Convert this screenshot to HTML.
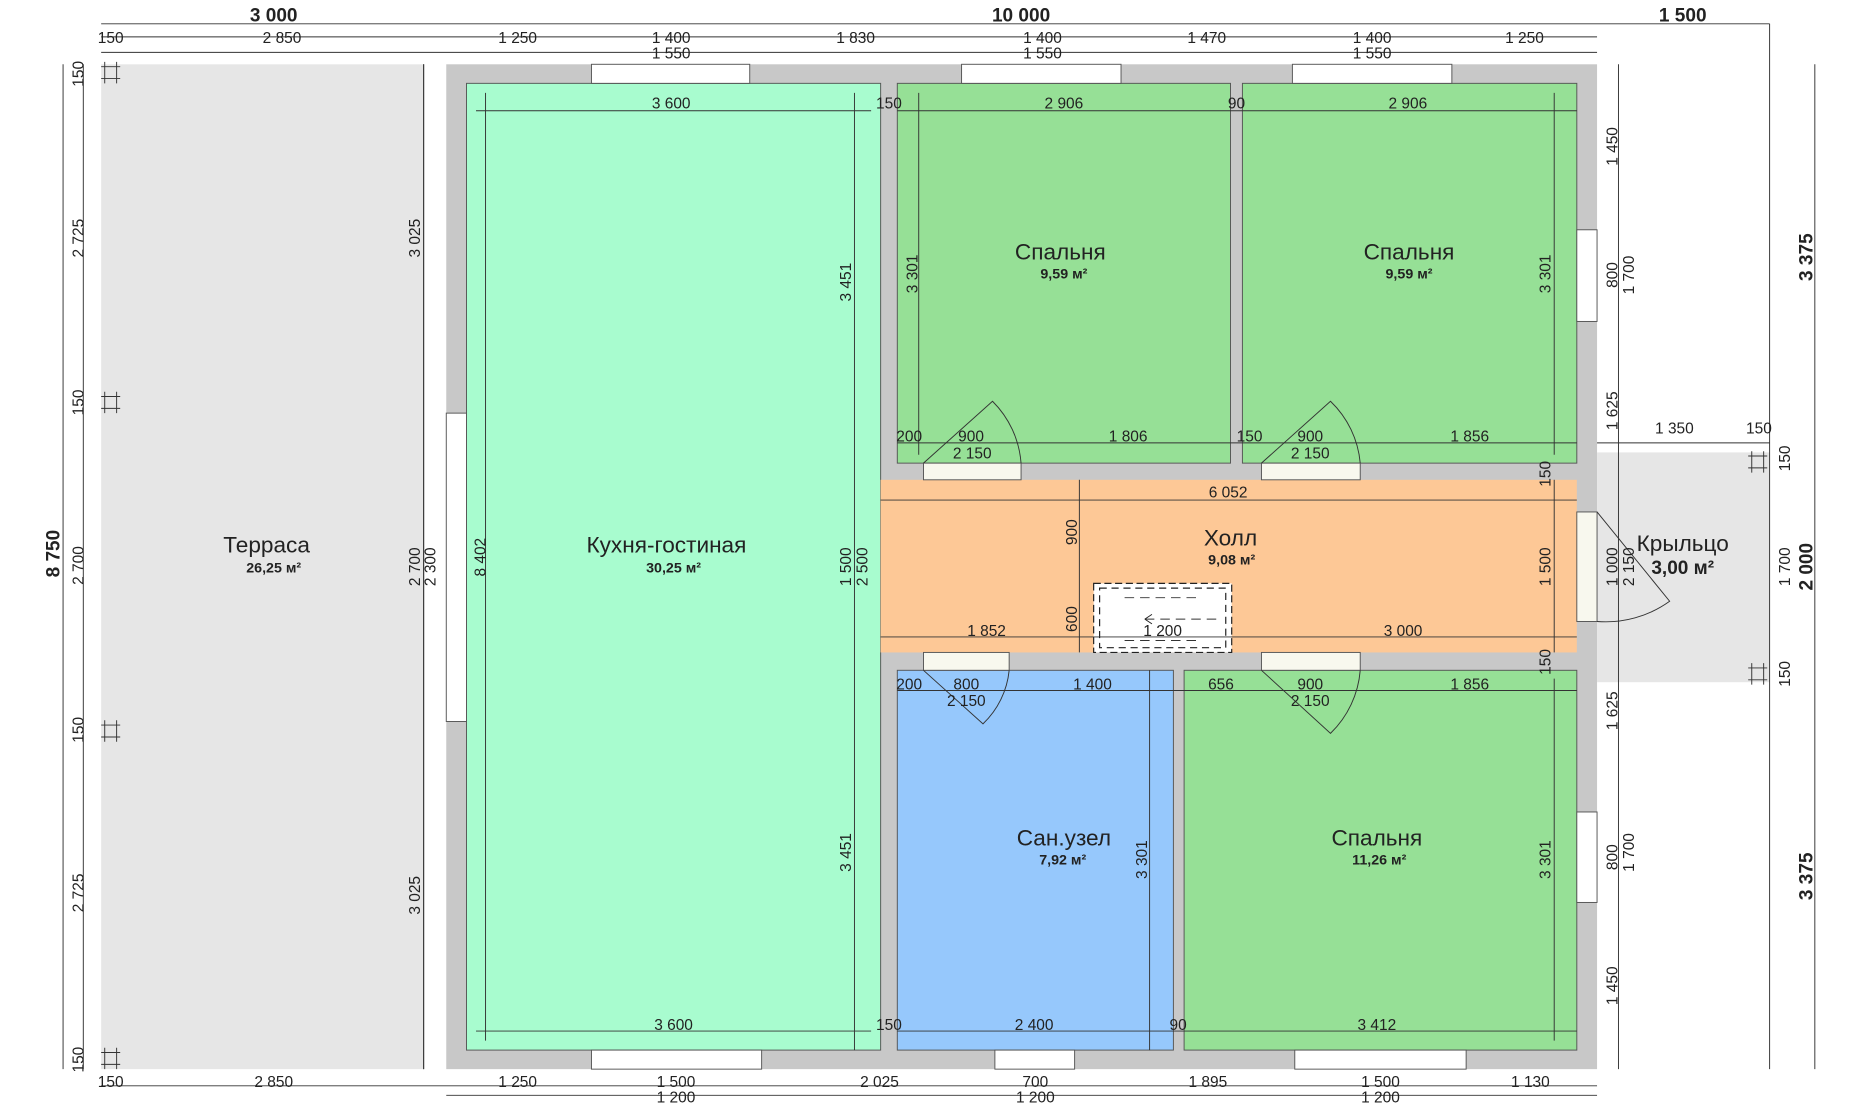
<!DOCTYPE html>
<html><head><meta charset="utf-8"><style>
html,body{margin:0;padding:0;background:#fff;}
svg{display:block}
text{font-family:"Liberation Sans",sans-serif;fill:#222}
.d{font-size:13px}
.big{font-size:16px;font-weight:bold}
.rn{font-size:19px}
.ar{font-size:12px;font-weight:bold}
line{stroke:#333;stroke-width:0.8}
</style></head><body>
<svg width="1866" height="1112" viewBox="0 0 1568 934" preserveAspectRatio="none" xmlns="http://www.w3.org/2000/svg">
<rect width="1568" height="934" fill="#fff"/>
<rect x="85" y="54" width="271" height="844" fill="#e6e6e6"/>
<line x1="356" y1="54" x2="356" y2="898"/>
<rect x="375" y="54" width="967" height="844" fill="#c8c8c8"/>
<rect x="392" y="70" width="348" height="812" fill="#a8fccf" stroke="#555" stroke-width="0.8"/>
<rect x="754" y="70" width="280" height="319" fill="#96e096" stroke="#555" stroke-width="0.8"/>
<rect x="1044" y="70" width="281" height="319" fill="#96e096" stroke="#555" stroke-width="0.8"/>
<rect x="740" y="403" width="585" height="145" fill="#fdc896"/>
<rect x="754" y="563" width="232" height="319" fill="#96c8fc" stroke="#555" stroke-width="0.8"/>
<rect x="995" y="563" width="330" height="319" fill="#96e096" stroke="#555" stroke-width="0.8"/>
<rect x="1342" y="380" width="145" height="193" fill="#e6e6e6"/>
<g fill="#fff" stroke="#555" stroke-width="0.8">
<rect x="497" y="54" width="133" height="16"/><rect x="808" y="54" width="134" height="16"/><rect x="1086" y="54" width="134" height="16"/>
<rect x="497" y="882" width="143" height="16"/><rect x="836" y="882" width="67" height="16"/><rect x="1088" y="882" width="144" height="16"/>
<rect x="375" y="347" width="17" height="259"/>
<rect x="1325" y="193" width="17" height="77"/><rect x="1325" y="682" width="17" height="76"/>
<rect x="1325" y="430" width="17" height="92" fill="#f8f8ee"/>
<rect x="776" y="389" width="82" height="14" fill="#f8f8ee"/><rect x="1060" y="389" width="83" height="14" fill="#f8f8ee"/>
<rect x="776" y="548" width="72" height="15" fill="#f8f8ee"/><rect x="1060" y="548" width="83" height="15" fill="#f8f8ee"/>
</g>
<g fill="none" stroke="#333" stroke-width="0.8">
<path d="M776 389 L834 337 A82 82 0 0 1 858 389"/>
<path d="M1060 389 L1118 337 A82 82 0 0 1 1143 389"/>
<path d="M776 563 L826 608 A72 72 0 0 0 848 563"/>
<path d="M1060 563 L1118 616 A83 83 0 0 0 1143 563"/>
<path d="M1342 430 L1403 505 A92 92 0 0 1 1342 522"/>
</g>
<rect x="919" y="490" width="116" height="58" fill="#fff" stroke="#222" stroke-dasharray="6,3"/>
<rect x="924" y="494" width="106" height="50" fill="none" stroke="#222" stroke-dasharray="6,4"/>
<line x1="945" y1="502" x2="1010" y2="502" stroke-dasharray="8,5"/>
<line x1="945" y1="538" x2="1010" y2="538" stroke-dasharray="8,5"/>
<line x1="962" y1="520" x2="1022" y2="520" stroke-dasharray="8,5"/>
<path d="M962 520 l6 -4 M962 520 l6 4" stroke="#222" stroke-width="0.8"/>
<g>
<line x1="85" y1="20" x2="1487" y2="20"/><line x1="85" y1="31" x2="1342" y2="31"/><line x1="85" y1="44" x2="1342" y2="44"/>
<line x1="85" y1="912" x2="1342" y2="912"/><line x1="375" y1="920" x2="1342" y2="920"/>
<line x1="53" y1="54" x2="53" y2="898"/><line x1="70" y1="54" x2="70" y2="898"/>
<line x1="1360" y1="54" x2="1360" y2="898"/><line x1="1487" y1="20" x2="1487" y2="898"/><line x1="1525" y1="54" x2="1525" y2="898"/>
<line x1="356" y1="54" x2="356" y2="898"/>
<line x1="400" y1="93" x2="732" y2="93"/><line x1="400" y1="866" x2="732" y2="866"/>
<line x1="408" y1="78" x2="408" y2="874"/><line x1="718" y1="78" x2="718" y2="882"/>
<line x1="754" y1="93" x2="1325" y2="93"/><line x1="754" y1="372" x2="1325" y2="372"/>
<line x1="772" y1="78" x2="772" y2="382"/><line x1="1306" y1="78" x2="1306" y2="382"/>
<line x1="740" y1="420" x2="1325" y2="420"/><line x1="740" y1="535" x2="1325" y2="535"/>
<line x1="907" y1="403" x2="907" y2="548"/><line x1="1306" y1="403" x2="1306" y2="548"/>
<line x1="754" y1="580" x2="1325" y2="580"/><line x1="754" y1="866" x2="1325" y2="866"/>
<line x1="966" y1="563" x2="966" y2="882"/><line x1="1306" y1="570" x2="1306" y2="874"/>
<line x1="1342" y1="372" x2="1487" y2="372"/>
</g>
<text class="big" x="230" y="18" text-anchor="middle">3 000</text>
<text class="big" x="858" y="18" text-anchor="middle">10 000</text>
<text class="big" x="1414" y="18" text-anchor="middle">1 500</text>
<g class="d" text-anchor="middle">
<text x="93" y="36">150</text><text x="237" y="36">2 850</text><text x="435" y="36">1 250</text><text x="564" y="36">1 400</text><text x="719" y="36">1 830</text><text x="876" y="36">1 400</text><text x="1014" y="36">1 470</text><text x="1153" y="36">1 400</text><text x="1281" y="36">1 250</text>
<text x="564" y="49">1 550</text><text x="876" y="49">1 550</text><text x="1153" y="49">1 550</text>
<text x="93" y="913">150</text><text x="230" y="913">2 850</text><text x="435" y="913">1 250</text><text x="568" y="913">1 500</text><text x="739" y="913">2 025</text><text x="870" y="913">700</text><text x="1015" y="913">1 895</text><text x="1160" y="913">1 500</text><text x="1286" y="913">1 130</text>
<text x="568" y="926">1 200</text><text x="870" y="926">1 200</text><text x="1160" y="926">1 200</text>
<text x="564" y="91">3 600</text><text x="747" y="91">150</text><text x="894" y="91">2 906</text><text x="1039" y="91">90</text><text x="1183" y="91">2 906</text>
<text x="764" y="371">200</text><text x="816" y="371">900</text><text x="948" y="371">1 806</text><text x="1050" y="371">150</text><text x="1101" y="371">900</text><text x="1235" y="371">1 856</text>
<text x="817" y="385">2 150</text><text x="1101" y="385">2 150</text>
<text x="1032" y="418">6 052</text><text x="829" y="534">1 852</text><text x="977" y="534">1 200</text><text x="1179" y="534">3 000</text>
<text x="764" y="579">200</text><text x="812" y="579">800</text><text x="918" y="579">1 400</text><text x="1026" y="579">656</text><text x="1101" y="579">900</text><text x="1235" y="579">1 856</text>
<text x="812" y="593">2 150</text><text x="1101" y="593">2 150</text>
<text x="566" y="865">3 600</text><text x="747" y="865">150</text><text x="869" y="865">2 400</text><text x="990" y="865">90</text><text x="1157" y="865">3 412</text>
<text x="1407" y="364">1 350</text><text x="1478" y="364">150</text>
</g>
<g class="d" text-anchor="middle">
<text transform="translate(50,465) rotate(-90)" class="big">8 750</text>
<text transform="translate(70,62) rotate(-90)">150</text><text transform="translate(70,200) rotate(-90)">2 725</text><text transform="translate(70,338) rotate(-90)">150</text><text transform="translate(70,475) rotate(-90)">2 700</text><text transform="translate(70,613) rotate(-90)">150</text><text transform="translate(70,750) rotate(-90)">2 725</text><text transform="translate(70,890) rotate(-90)">150</text>
<text transform="translate(353,200) rotate(-90)">3 025</text><text transform="translate(353,476) rotate(-90)">2 700</text><text transform="translate(353,752) rotate(-90)">3 025</text><text transform="translate(366,476) rotate(-90)">2 300</text>
<text transform="translate(408,468) rotate(-90)">8 402</text>
<text transform="translate(715,237) rotate(-90)">3 451</text><text transform="translate(715,716) rotate(-90)">3 451</text><text transform="translate(715,476) rotate(-90)">1 500</text><text transform="translate(729,476) rotate(-90)">2 500</text>
<text transform="translate(771,230) rotate(-90)">3 301</text><text transform="translate(1303,230) rotate(-90)">3 301</text>
<text transform="translate(905,447) rotate(-90)">900</text><text transform="translate(905,520) rotate(-90)">600</text><text transform="translate(1303,476) rotate(-90)">1 500</text>
<text transform="translate(1303,398) rotate(-90)">150</text><text transform="translate(1303,556) rotate(-90)">150</text>
<text transform="translate(964,722) rotate(-90)">3 301</text><text transform="translate(1303,722) rotate(-90)">3 301</text>
<text transform="translate(1359,123) rotate(-90)">1 450</text><text transform="translate(1359,231) rotate(-90)">800</text><text transform="translate(1373,231) rotate(-90)">1 700</text><text transform="translate(1359,345) rotate(-90)">1 625</text>
<text transform="translate(1359,476) rotate(-90)">1 000</text><text transform="translate(1373,476) rotate(-90)">2 150</text>
<text transform="translate(1359,597) rotate(-90)">1 625</text><text transform="translate(1359,720) rotate(-90)">800</text><text transform="translate(1373,716) rotate(-90)">1 700</text><text transform="translate(1359,828) rotate(-90)">1 450</text>
<text transform="translate(1504,385) rotate(-90)">150</text><text transform="translate(1504,476) rotate(-90)">1 700</text><text transform="translate(1504,566) rotate(-90)">150</text>
<text transform="translate(1523,216) rotate(-90)" class="big">3 375</text><text transform="translate(1523,476) rotate(-90)" class="big">2 000</text><text transform="translate(1523,736) rotate(-90)" class="big">3 375</text>
</g>
<g stroke="#333" stroke-width="0.8" fill="none">
<path d="M85 56h16M85 66h16M88 52v18M98 52v18"/>
<path d="M85 333h16M85 343h16M88 329v18M98 329v18"/>
<path d="M85 609h16M85 619h16M88 605v18M98 605v18"/>
<path d="M85 884h16M85 894h16M88 880v18M98 880v18"/>
<path d="M1469 383h16M1469 393h16M1472 379v18M1482 379v18"/>
<path d="M1469 561h16M1469 571h16M1472 557v18M1482 557v18"/>
</g>
<g text-anchor="middle">
<text class="rn" x="224" y="464">Терраса</text><text class="ar" x="230" y="481">26,25 м²</text>
<text class="rn" x="560" y="464">Кухня-гостиная</text><text class="ar" x="566" y="481">30,25 м²</text>
<text class="rn" x="891" y="218">Спальня</text><text class="ar" x="894" y="234">9,59 м²</text>
<text class="rn" x="1184" y="218">Спальня</text><text class="ar" x="1184" y="234">9,59 м²</text>
<text class="rn" x="1034" y="458">Холл</text><text class="ar" x="1035" y="474">9,08 м²</text>
<text class="rn" x="894" y="710">Сан.узел</text><text class="ar" x="893" y="726">7,92 м²</text>
<text class="rn" x="1157" y="710">Спальня</text><text class="ar" x="1159" y="726">11,26 м²</text>
<text class="rn" x="1414" y="463">Крыльцо</text><text class="big" x="1414" y="482">3,00 м²</text>
</g>
</svg>
</body></html>
